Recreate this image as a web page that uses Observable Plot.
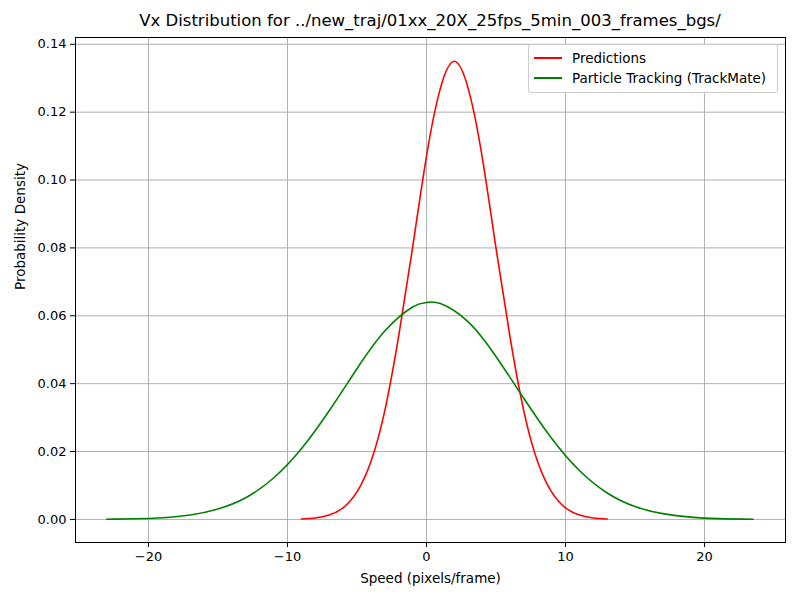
<!DOCTYPE html>
<html><head>
<meta charset="utf-8">
<script src="https://cdn.jsdelivr.net/npm/d3@7"></script>
<script src="https://cdn.jsdelivr.net/npm/@observablehq/plot@0.6"></script>
<style>
body{margin:0;background:#fff;font-family:"DejaVu Sans",sans-serif;}
#wrap{position:relative;width:800px;height:600px;}
#title{position:absolute;top:11px;left:75px;width:710px;text-align:center;font-size:16.5px;}
#chart{position:absolute;top:30px;left:0;}
#legend{position:absolute;left:528px;top:44px;width:248px;height:44px;border:1px solid #ccc;border-radius:3px;background:#fff;font-size:13.5px;padding-top:3px;}
.li{display:flex;align-items:center;height:20px;}
.sw{width:28px;height:2px;margin:0 10px 0 5px;}
</style></head><body>
<div id="wrap">
<div id="title">Vx Distribution for ../new_traj/01xx_20X_25fps_5min_003_frames_bgs/</div>
<div id="chart"></div>
<div id="legend">
<div class="li"><div class="sw" style="background:red"></div>Predictions</div>
<div class="li"><div class="sw" style="background:green"></div>Particle Tracking (TrackMate)</div>
</div>
</div>
<script>
const predX = [-9,-8,-7,-6,-5,-4,-3,-2,-1,0,1,2,3,4,5,6,7,8,9,10,11,12,13]
const predY = [0.00013,0.0004,0.0013,0.0034,0.0081,0.017,0.032,0.054,0.080,0.107,0.127,0.135,0.127,0.107,0.080,0.054,0.032,0.017,0.0081,0.0034,0.0013,0.0004,0.00013]
const trackX = [-23,-21,-19,-17,-15,-13,-11,-9,-7,-5,-3,-1,0,1,3,5,7,9,11,13,15,17,19,21,23.5]
const trackY = [0.00006,0.00018,0.0005,0.0013,0.0031,0.0064,0.0122,0.0208,0.032,0.0444,0.0555,0.0626,0.0639,0.0636,0.0582,0.048,0.0357,0.0239,0.0144,0.0078,0.0038,0.0017,0.00068,0.00024,0.00006]

const pred = predX.map((x, i) => ({x, y: predY[i]}))
const track = trackX.map((x, i) => ({x, y: trackY[i]}))

const chart = Plot.plot({
  width: 800, height: 570,
  marginLeft: 75, marginRight: 15, marginTop: 7, marginBottom: 58,
  style: {fontSize: "13px", fontFamily: "DejaVu Sans"},
  x: {domain: [-25.25, 25.83], ticks: [-20,-10,0,10,20], tickSize: 5, label: null},
  y: {domain: [-0.0068, 0.142], ticks: d3.range(0, 0.1401, 0.02), tickFormat: d3.format(".2f"), tickSize: 5, label: null},
  marks: [
    Plot.gridX([-20,-10,0,10,20], {stroke: "#b0b0b0", strokeOpacity: 1}),
    Plot.gridY(d3.range(0, 0.1401, 0.02), {stroke: "#b0b0b0", strokeOpacity: 1}),
    Plot.line(pred, {x: "x", y: "y", stroke: "red", strokeWidth: 1.6, curve: "natural"}),
    Plot.line(track, {x: "x", y: "y", stroke: "green", strokeWidth: 1.6, curve: "natural"}),
    Plot.frame({stroke: "black"}),
    Plot.text(["Speed (pixels/frame)"], {frameAnchor: "bottom", dy: 40, fontSize: 13.5}),
    Plot.text(["Probability Density"], {frameAnchor: "left", dx: -55, rotate: -90, fontSize: 13.5})
  ]
})
d3.select('#chart').append(() => chart)
</script>
</body></html>
